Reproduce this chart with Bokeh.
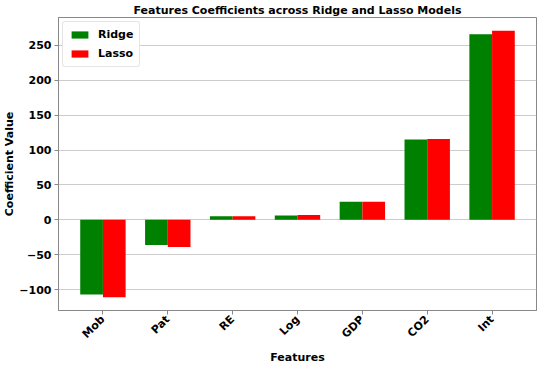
from bokeh.plotting import figure
from bokeh.models import ColumnDataSource, Range1d, FixedTicker, Legend, LegendItem, Title
from bokeh.transform import dodge
from bokeh.embed import file_html
from bokeh.resources import INLINE
import math

features = ["Mob", "Pat", "RE", "Log", "GDP", "CO2", "Int"]
ridge = [-107, -36, 5, 6, 26, 115, 266]
lasso = [-111, -39, 5, 7, 26, 116, 271]
y_ticks = [-100, -50, 0, 50, 100, 150, 200, 250]

src = ColumnDataSource(dict(x=list(range(len(features))), ridge=ridge, lasso=lasso))

FONT = "DejaVu Sans"
p = figure(width=539, height=363, output_backend="svg", toolbar_location=None,
           x_range=Range1d(-0.685, 6.685), y_range=Range1d(-130, 290),
           min_border_left=54, min_border_right=3, min_border_bottom=0, min_border_top=14,
           title="Features Coefficients across Ridge and Lasso Models")
p.title.text_font = FONT
p.title.text_font_size = "11px"
p.title.text_font_style = "bold"
p.title.text_color = "#000000"
p.title.align = "center"
p.title.offset = 0
p.title.standoff = 2

w = 0.35
r1 = p.vbar(x=dodge("x", -w / 2), top="ridge", bottom=0, width=w, source=src,
            fill_color="#008000", line_color=None)
r2 = p.vbar(x=dodge("x", w / 2), top="lasso", bottom=0, width=w, source=src,
            fill_color="#ff0000", line_color=None)

legend = Legend(items=[LegendItem(label="Ridge", renderers=[r1]),
                       LegendItem(label="Lasso", renderers=[r2])],
                location="top_left")
legend.label_text_font = FONT
legend.label_text_font_size = "11px"
legend.label_text_font_style = "bold"
legend.label_text_color = "#000000"
legend.glyph_width = 21
legend.glyph_height = 9
legend.label_height = 12
legend.spacing = 6
legend.padding = 6
legend.margin = 4
legend.border_line_color = "#cccccc"
legend.border_radius = 3
legend.label_standoff = 8
p.add_layout(legend)

p.xaxis.ticker = FixedTicker(ticks=list(range(len(features))))
p.xaxis.major_label_overrides = {i: f for i, f in enumerate(features)}
p.xaxis.major_label_orientation = math.pi / 4
p.yaxis.ticker = FixedTicker(ticks=y_ticks)
p.yaxis.major_label_overrides = {t: (str(t).replace("-", "\u2212")) for t in y_ticks}

for ax in (p.xaxis[0], p.yaxis[0]):
    ax.major_label_text_font = FONT
    ax.major_label_text_font_size = "11px"
    ax.major_label_text_font_style = "bold"
    ax.major_label_text_color = "#000000"
    ax.axis_label_text_font = FONT
    ax.axis_label_text_font_size = "11px"
    ax.axis_label_text_font_style = "bold"
    ax.axis_label_text_color = "#000000"
    ax.axis_line_color = "#888888"
    ax.major_tick_line_color = "#888888"
    ax.major_tick_out = 4
    ax.major_tick_in = 0
    ax.minor_tick_line_color = None
p.yaxis.axis_label = "Coefficient Value"
p.xaxis.major_label_standoff = 3
p.yaxis.major_label_standoff = 3
p.yaxis.axis_label_standoff = 0

xlab = Title(text="Features", align="center", text_font=FONT, text_font_size="11px",
             text_font_style="bold", text_color="#000000", standoff=0, offset=0)
p.add_layout(xlab, "below")

p.xgrid.grid_line_color = None
p.ygrid.grid_line_color = "#cccccc"
p.ygrid.grid_line_width = 1
p.outline_line_color = "#888888"
p.background_fill_color = "white"
p.border_fill_color = "white"

open("out.html", "w").write(file_html(p, INLINE))
